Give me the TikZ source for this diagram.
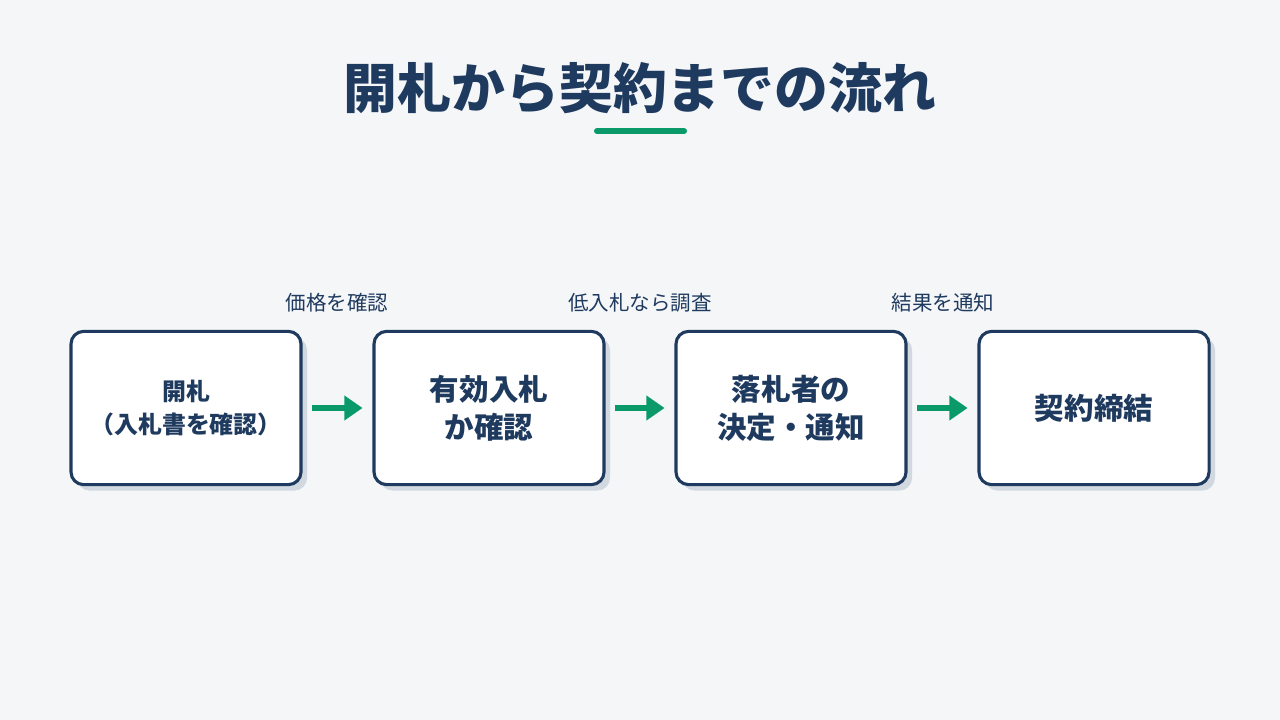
\documentclass[tikz,border=0pt]{standalone}
\usepackage{fontspec}
\setmainfont{Noto Sans CJK JP}
\usetikzlibrary{positioning,arrows.meta}
\definecolor{mynavy}{RGB}{31,58,95}
\definecolor{mygreen}{RGB}{10,154,106}
\definecolor{mybg}{RGB}{244,246,248}
\definecolor{myshadow}{RGB}{210,216,224}
\tikzstyle{stage}=[draw=mynavy,line width=2.2pt,fill=white,rounded corners=9pt,minimum width=5.75cm,minimum height=3.83cm,align=center,text=mynavy,font=\bfseries\fontsize{21}{27}\selectfont]
\tikzstyle{shade}=[fill=myshadow,rounded corners=9pt,minimum width=5.75cm,minimum height=3.83cm]
\tikzstyle{flow}=[draw=mygreen,line width=3.6pt,-{Triangle[length=13pt,width=17pt]}]
\tikzstyle{note}=[text=mynavy,font=\fontsize{14.6}{16}\selectfont]
\begin{document}
\begin{tikzpicture}[x=0.025cm,y=-0.025cm]
\fill[mybg] (0,0) rectangle (1280,720);
\useasboundingbox (0,0) rectangle (1280,720);
\node[text=mynavy,font=\bfseries\fontsize{38.3}{40}\selectfont] (title) at (640,88) {開札から契約までの流れ};
\draw[mygreen,line width=4.3pt,line cap=round] (597,131) -- (684,131);
% shadows
\foreach \x in {186,489,791,1094}
  \node[shade] at (\x+6,414) {};
\node[stage,font=\bfseries\fontsize{17}{24}\selectfont] (s1) at (186,408) {開札\\（入札書を確認）};
\node[stage] (s2) at (489,408) {有効入札\\か確認};
\node[stage] (s3) at (791,408) {落札者の\\決定・通知};
\node[stage] (s4) at (1094,408) {契約締結};
\draw[flow] ([xshift=7pt]s1.east) -- ([xshift=-7pt]s2.west);
\draw[flow] ([xshift=7pt]s2.east) -- ([xshift=-7pt]s3.west);
\draw[flow] ([xshift=7pt]s3.east) -- ([xshift=-7pt]s4.west);
\node[note] (l1) at (337,303) {価格を確認};
\node[note] (l2) at (640,303) {低入札なら調査};
\node[note] (l3) at (943,303) {結果を通知};
\end{tikzpicture}
\end{document}
